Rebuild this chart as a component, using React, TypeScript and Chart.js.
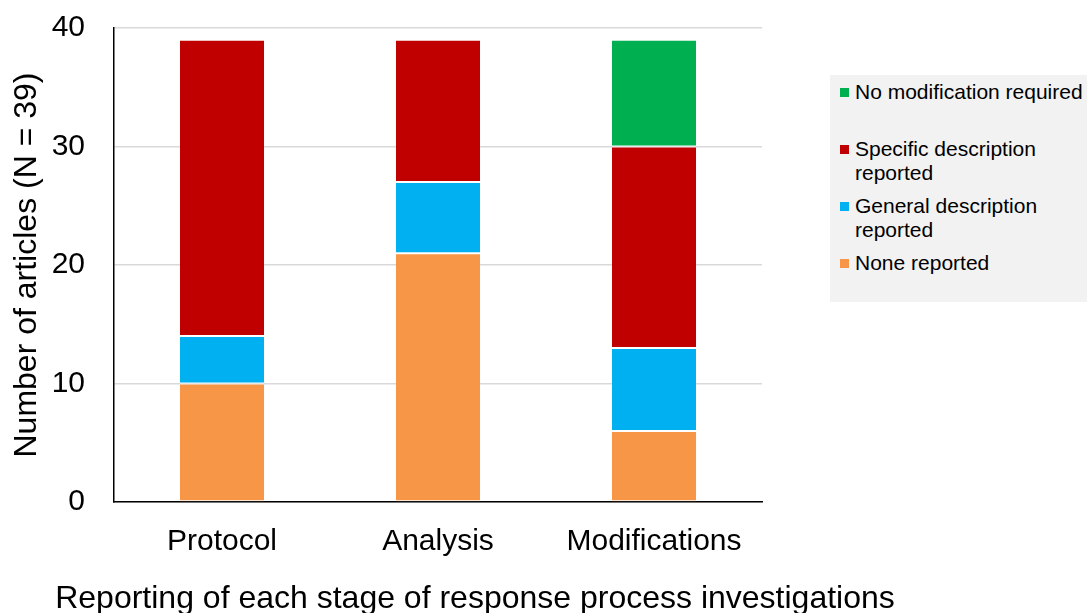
import React, { useEffect, useRef } from "react";
import { Chart, registerables } from "chart.js";

Chart.register(...registerables);

const categories = ["Protocol", "Analysis", "Modifications"];
const seriesNames = [
  "None reported",
  "General description reported",
  "Specific description reported",
  "No modification required",
];
const noneReported = [10, 21, 6];
const generalDescription = [4, 6, 7];
const specificDescription = [25, 12, 17];
const noModification = [0, 0, 9];
const seriesColors = ["#F79646", "#00B0F0", "#C00000", "#00B050"];
const yTicks = [0, 10, 20, 30, 40];
const xTitle = "Reporting of each stage of response process investigations";
const yTitle = "Number of articles (N = 39)";

const FONT = "'Liberation Sans', Arial, sans-serif";

export default function App() {
  const ref = useRef<HTMLCanvasElement | null>(null);

  useEffect(() => {
    document.body.style.margin = "0";
    const values = [noneReported, generalDescription, specificDescription, noModification];
    const chart = new Chart(ref.current as HTMLCanvasElement, {
      type: "bar",
      data: {
        labels: categories,
        datasets: seriesNames.map((name, i) => ({
          label: name,
          data: values[i],
          backgroundColor: seriesColors[i],
          borderColor: "#ffffff",
          borderWidth: { top: 1, bottom: 1, left: 0, right: 0 },
          borderSkipped: false,
          categoryPercentage: 1,
          barPercentage: 0.39,
        })),
      },
      options: {
        animation: false,
        responsive: false,
        layout: { padding: { top: 28, right: 325, left: 0, bottom: 0 } },
        plugins: { legend: { display: false }, tooltip: { enabled: false } },
        scales: {
          x: {
            stacked: true,
            grid: { display: false, drawTicks: false },
            border: { display: true, color: "#000000", width: 1.5 },
            ticks: { color: "#000", font: { family: FONT, size: 30 }, padding: 22 },
            title: { display: false },
            afterFit: (scale: any) => {
              scale.height = 111;
              scale.paddingLeft = 0;
              scale.paddingRight = 0;
            },
          },
          y: {
            stacked: true,
            min: 0,
            max: 40,
            afterBuildTicks: (scale: any) => {
              scale.ticks = yTicks.map((v) => ({ value: v }));
            },
            grid: { color: "#d9d9d9", lineWidth: 1.5, drawTicks: false },
            border: { display: true, color: "#000000", width: 1.5 },
            ticks: { color: "#000", font: { family: FONT, size: 30 }, padding: 29 },
            title: {
              display: true,
              text: yTitle,
              color: "#000",
              font: { family: FONT, size: 32 },
              padding: { top: 8, bottom: 0 },
            },
            afterFit: (scale: any) => {
              scale.width = 114;
              scale.paddingTop = 0;
              scale.paddingBottom = 0;
            },
          },
        },
      },
    });
    return () => chart.destroy();
  }, []);

  const legendItems = [
    { idx: 3, lines: ["No modification required"], top: 80 },
    { idx: 2, lines: ["Specific description", "reported"], top: 137 },
    { idx: 1, lines: ["General description", "reported"], top: 194 },
    { idx: 0, lines: ["None reported"], top: 251 },
  ];

  return (
    <div style={{ position: "relative", width: 1087, height: 613, overflow: "hidden", background: "#fff" }}>
      <canvas ref={ref} width={1087} height={613} style={{ display: "block" }} />
      <div
        style={{
          position: "absolute",
          left: 0,
          width: 950,
          top: 578,
          textAlign: "center",
          fontFamily: FONT,
          fontSize: 32,
          lineHeight: "38px",
          color: "#000",
          whiteSpace: "nowrap",
        }}
      >
        {xTitle}
      </div>
      <div
        style={{
          position: "absolute",
          left: 830,
          top: 75,
          width: 257,
          height: 227,
          background: "#f2f2f2",
        }}
      />
      {legendItems.map((it) => (
        <div key={it.idx} style={{ position: "absolute", left: 838, top: it.top, fontFamily: FONT, fontSize: 21, lineHeight: "24px", color: "#000", whiteSpace: "nowrap" }}>
          <span
            style={{
              position: "absolute",
              left: 2,
              top: 8,
              width: 9,
              height: 9,
              background: seriesColors[it.idx],
            }}
          />
          <div style={{ marginLeft: 17 }}>
            {it.lines.map((l, k) => (
              <div key={k}>{l}</div>
            ))}
          </div>
        </div>
      ))}
    </div>
  );
}
